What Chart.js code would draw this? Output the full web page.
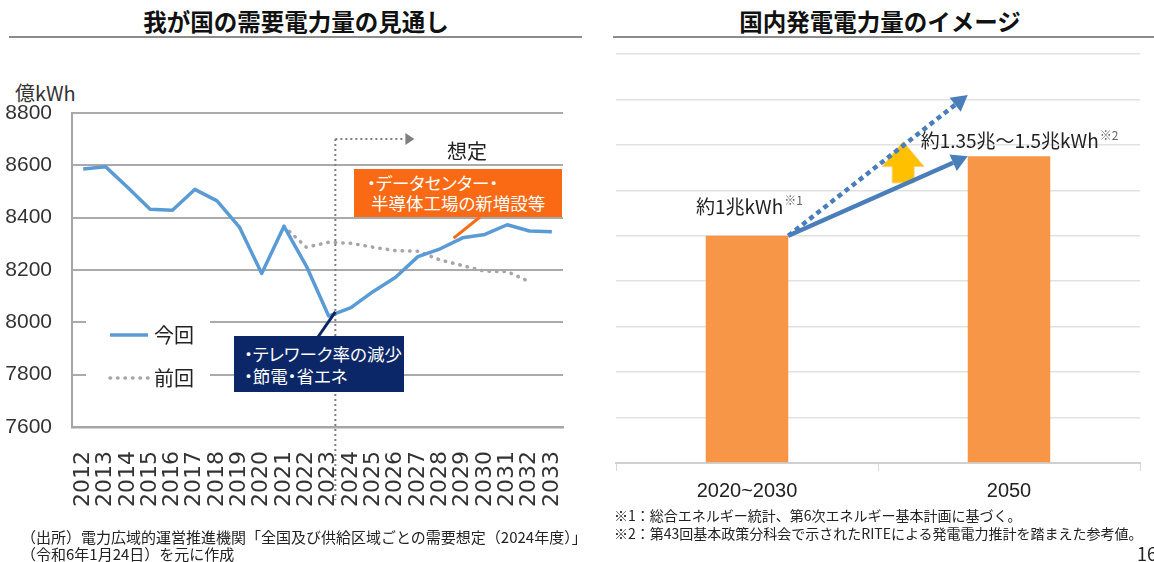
<!DOCTYPE html>
<html lang="ja">
<head>
<meta charset="utf-8">
<script src="https://cdn.jsdelivr.net/npm/chart.js@4.4.1/dist/chart.umd.min.js"></script>
<style>
html,body{margin:0;padding:0;background:#fff;}
#page{position:relative;width:1154px;height:562px;overflow:hidden;font-family:"Noto Sans CJK JP","Noto Sans",sans-serif;color:#222;}
canvas{position:absolute;top:0;}
#demandChart{left:0;}
#powerChart{left:600px;}
.title{position:absolute;top:6px;font-weight:bold;font-size:23.5px;line-height:30px;text-align:center;color:#111;}
.rule{position:absolute;top:36px;height:0;border-top:2px solid #8c8c8c;}
.note{position:absolute;font-size:14px;line-height:17px;color:#222;white-space:nowrap;}
.unit{position:absolute;left:15px;top:80px;font-size:20px;line-height:26px;color:#333;}
.box{position:absolute;color:#fff;font-size:17.5px;white-space:nowrap;font-feature-settings:"palt";box-sizing:border-box;}
#teleBox{left:234px;top:336px;width:170px;height:56px;background:#0c2768;line-height:22px;padding:7px 0 0 10px;}
#dcBox{left:354px;top:169px;width:208px;height:48px;background:#fa6a14;line-height:20px;padding:4px 0 0 13px;}
</style>
</head>
<body>
<div id="page">
  <div class="title" style="left:10px;width:572px;">我が国の需要電力量の見通し</div>
  <div class="rule" style="left:9px;width:573px;"></div>
  <div class="title" style="left:606px;width:548px;">国内発電電力量のイメージ</div>
  <div class="rule" style="left:613px;width:541px;"></div>
  <div class="unit">億kWh</div>
  <canvas id="demandChart" width="600" height="562"></canvas>
  <canvas id="powerChart" width="554" height="562"></canvas>
  <div class="box" id="dcBox">・データセンター・<br>&nbsp;半導体工場の新増設等</div>
  <div class="box" id="teleBox">・テレワーク率の減少<br>・節電・省エネ</div>
  <div class="note" style="left:21px;top:528px;font-size:15px;">（出所）電力広域的運営推進機関「全国及び供給区域ごとの需要想定（2024年度）」</div>
  <div class="note" style="left:21px;top:545px;font-size:15px;">（令和6年1月24日）を元に作成</div>
  <div class="note" style="left:614px;top:507px;">※1：総合エネルギー統計、第6次エネルギー基本計画に基づく。</div>
  <div class="note" style="left:614px;top:525px;">※2：第43回基本政策分科会で示されたRITEによる発電電力推計を踏まえた参考値。</div>
  <div class="note" style="left:1137px;top:543px;font-size:18px;line-height:20px;">16</div>
</div>
<script>
// left chart: demand forecast (億kWh)
const years = ['2012','2013','2014','2015','2016','2017','2018','2019','2020','2021','2022',
  '2023','2024','2025','2026','2027','2028','2029','2030','2031','2032','2033'];
const currentForecast = [8586,8595,8515,8432,8428,8508,8464,8364,8187,8367,8215,
  8024,8056,8118,8172,8251,8281,8323,8336,8373,8349,8346];
const previousForecast = [null,null,null,null,null,null,null,null,null,8367,8287,
  8306,8302,8287,8274,8272,8238,8217,8195,8194,8155,null];

// right chart: generation (兆kWh)
const periods = ['2020~2030','2050'];
const generation = [1.0,1.35];
const generationLabels = [['約1兆kWh','※1'],['約1.35兆～1.5兆kWh','※2']];
const dxTarget = 1.62;

const JP = '"Noto Sans CJK JP", "Noto Sans", sans-serif';

function arrow(ctx,x1,y1,x2,y2,o){
  const ang=Math.atan2(y2-y1,x2-x1);
  const bx=x2-o.head*Math.cos(ang), by=y2-o.head*Math.sin(ang);
  ctx.save();
  ctx.strokeStyle=o.color;
  ctx.lineWidth=o.width;
  ctx.setLineDash(o.dash||[]);
  ctx.beginPath();
  ctx.moveTo(x1,y1);
  ctx.lineTo(bx,by);
  ctx.stroke();
  ctx.setLineDash([]);
  ctx.fillStyle=o.color;
  ctx.beginPath();
  ctx.moveTo(x2,y2);
  ctx.lineTo(bx+o.half*Math.sin(ang),by-o.half*Math.cos(ang));
  ctx.lineTo(bx-o.half*Math.sin(ang),by+o.half*Math.cos(ang));
  ctx.closePath();
  ctx.fill();
  ctx.restore();
}

const demandNotes={
  id:'demandNotes',
  beforeDatasetsDraw(chart){
    const {ctx}=chart;
    ctx.save();
    ctx.fillStyle='#fff';
    ctx.fillRect(86,306,124,92);
    chart.data.datasets.forEach((ds,i)=>{
      const y=335+i*43;
      ctx.beginPath();
      ctx.strokeStyle=ds.borderColor;
      ctx.lineWidth=ds.borderWidth;
      ctx.lineCap=ds.borderCapStyle||'butt';
      ctx.setLineDash(ds.borderDash||[]);
      ctx.moveTo(110,y);
      ctx.lineTo(148,y);
      ctx.stroke();
      ctx.setLineDash([]);
      ctx.fillStyle='#222';
      ctx.font='20px '+JP;
      ctx.textBaseline='middle';
      ctx.fillText(ds.label,154,y);
    });
    ctx.restore();
  },
  afterDatasetsDraw(chart){
    const {ctx,scales:{x,y}}=chart;
    const xs=x.getPixelForValue(11.3);
    ctx.save();
    // forecast start marker
    ctx.strokeStyle='#7f7f7f';
    ctx.lineWidth=2;
    ctx.setLineDash([2,3]);
    ctx.beginPath();
    ctx.moveTo(xs,139);
    ctx.lineTo(xs,500);
    ctx.stroke();
    ctx.restore();
    arrow(ctx,xs,139,xs+79,139,{color:'#7f7f7f',width:2,dash:[2,3],head:9,half:6});
    ctx.save();
    ctx.fillStyle='#222';
    ctx.font='20px '+JP;
    ctx.textBaseline='middle';
    ctx.fillText('想定',447,151);

    // connectors to the note boxes
    ctx.lineWidth=3;
    ctx.strokeStyle='#fa6a14';
    ctx.beginPath();
    ctx.moveTo(480,217);
    ctx.lineTo(x.getPixelForValue(16.6),y.getPixelForValue(8322));
    ctx.stroke();
    ctx.strokeStyle='#0c2768';
    ctx.beginPath();
    ctx.moveTo(318,337);
    ctx.lineTo(xs,y.getPixelForValue(8040));
    ctx.stroke();
    ctx.restore();
  }
};

new Chart(document.getElementById('demandChart'),{
  type:'line',
  data:{
    labels:years,
    datasets:[{
      label:'今回',
      data:currentForecast,
      borderColor:'#5b9bd5',
      borderWidth:3.5,
      borderJoinStyle:'round',
      pointRadius:0,
      tension:0
    },{
      label:'前回',
      data:previousForecast,
      borderColor:'#a6a6a6',
      borderWidth:3.5,
      borderDash:[0.5,7],
      borderCapStyle:'round',
      pointRadius:0,
      tension:0
    }]
  },
  options:{
    responsive:false,
    animation:false,
    events:[],
    layout:{padding:{top:113,right:37,left:0,bottom:0}},
    plugins:{legend:{display:false},tooltip:{enabled:false}},
    scales:{
      x:{
        offset:true,
        grid:{display:false},
        border:{display:true,color:'#a6a6a6',width:2.5},
        ticks:{
          autoSkip:false,
          minRotation:90,
          maxRotation:90,
          padding:16,
          color:'#333',
          font:{family:'"DejaVu Sans"',size:22}
        },
        afterFit(s){s.height=135;}
      },
      y:{
        min:7600,
        max:8800,
        grid:{color:'#aaaaaa',lineWidth:2,drawTicks:false},
        border:{display:true,color:'#a6a6a6',width:2},
        ticks:{
          stepSize:200,
          padding:20,
          color:'#333',
          font:{family:'"Liberation Sans"',size:21},
          callback:v=>String(v)
        },
        afterFit(s){s.width=72;}
      }
    }
  },
  plugins:[demandNotes]
});

const powerNotes={
  id:'powerNotes',
  afterDatasetsDraw(chart){
    const {ctx,scales:{y}}=chart;
    const bars=chart.getDatasetMeta(0).data.map(b=>b.getProps(['x','y','width'],true));
    const x1=bars[0].x+bars[0].width/2, y1=bars[0].y;
    const x2=bars[1].x-bars[1].width/2, y2=bars[1].y;
    const y3=y.getPixelForValue(dxTarget);

    // yellow "increase" arrow between the two trends
    const t=0.64;
    const xa=x1+t*(x2-x1);
    const bottom=y1+t*(y2-y1)-2;
    const tip=y1+t*(y3-y1)-4;
    const neck=tip+25;
    ctx.save();
    ctx.fillStyle='#ffc000';
    ctx.strokeStyle='#f5d37e';
    ctx.lineWidth=1;
    ctx.beginPath();
    ctx.moveTo(xa-11,bottom);
    ctx.lineTo(xa-11,neck);
    ctx.lineTo(xa-21,neck);
    ctx.lineTo(xa,tip);
    ctx.lineTo(xa+21,neck);
    ctx.lineTo(xa+11,neck);
    ctx.lineTo(xa+11,bottom);
    ctx.closePath();
    ctx.fill();
    ctx.stroke();
    ctx.restore();

    arrow(ctx,x1,y1,x2,y3,{color:'#4a7ebb',width:4.5,dash:[5,4],head:16,half:9});
    arrow(ctx,x1,y1,x2,y2,{color:'#4a7ebb',width:4.5,head:16,half:9});

    // value labels
    const lift=[29,15], shift=[2,10];
    ctx.save();
    ctx.textBaseline='middle';
    ctx.fillStyle='#222';
    bars.forEach((b,i)=>{
      const [main,sup]=generationLabels[i];
      ctx.font='19px '+JP;
      const w1=ctx.measureText(main).width;
      ctx.font='12px '+JP;
      const w2=ctx.measureText(sup).width;
      const left=b.x+shift[i]-(w1+w2)/2;
      const cy=b.y-lift[i];
      ctx.font='19px '+JP;
      ctx.fillText(main,left,cy);
      ctx.font='12px '+JP;
      ctx.fillStyle='#666';
      ctx.fillText(sup,left+w1+1,cy-6);
      ctx.fillStyle='#222';
    });

    // DX caption
    ctx.fillStyle='#ffc000';
    ctx.strokeStyle='#ffc000';
    ctx.lineWidth=2;
    ctx.font='bold 21px '+JP;
    ctx.textAlign='center';
    [['生成AI等DX',98,109],['による増加？',122,132]].forEach(([txt,cy,ul])=>{
      ctx.fillText(txt,843,cy);
      const w=ctx.measureText(txt).width;
      ctx.beginPath();
      ctx.moveTo(843-w/2,ul);
      ctx.lineTo(843+w/2,ul);
      ctx.stroke();
    });
    ctx.restore();
  }
};

new Chart(document.getElementById('powerChart'),{
  type:'bar',
  data:{
    labels:periods,
    datasets:[{
      data:generation,
      backgroundColor:'#f79646',
      barPercentage:0.315,
      categoryPercentage:1
    }]
  },
  options:{
    responsive:false,
    animation:false,
    events:[],
    layout:{padding:{top:54,right:14,left:0,bottom:0}},
    plugins:{legend:{display:false},tooltip:{enabled:false}},
    scales:{
      x:{
        grid:{display:true,drawOnChartArea:false,drawTicks:true,tickLength:8,color:'#d9d9d9',offset:true},
        border:{display:true,color:'#d0d0d0',width:2},
        ticks:{padding:8,color:'#222',font:{family:'"Liberation Sans"',size:20}},
        afterFit(s){s.height=99;}
      },
      y:{
        min:0,
        max:1.8,
        grid:{color:'#e2e2e2',lineWidth:1.5,drawTicks:false},
        border:{display:false},
        ticks:{display:false,stepSize:0.2},
        afterFit(s){s.width=16;}
      }
    }
  },
  plugins:[powerNotes]
});
</script>
</body>
</html>
